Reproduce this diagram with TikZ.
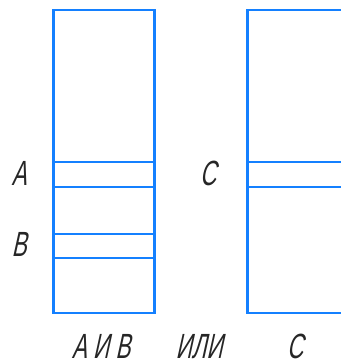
\documentclass[tikz,border=0pt]{standalone}
\usepackage{fontspec}
\setmainfont{Liberation Sans}[FakeStretch=0.64,FakeSlant=0.22]
\usetikzlibrary{positioning}

\tikzset{
  frame/.style={line width=2.2pt, color={rgb,255:red,20;green,128;blue,255}},
  lab/.style={inner sep=0pt, anchor=base, font=\fontsize{35}{35}\selectfont, text=black!85}
}

\begin{document}
\begin{tikzpicture}[x=1pt,y=-1pt]
  \useasboundingbox (0,0) rectangle (340,364);
  % left column
  \draw [frame] (53.5,10) rectangle (154.5,313);
  \draw [frame] (53.5,162) -- (154.5,162);
  \draw [frame] (53.5,187) -- (154.5,187);
  \draw [frame] (53.5,234) -- (154.5,234);
  \draw [frame] (53.5,258) -- (154.5,258);
  % right column, cut at the edge
  \draw [frame] (350,10) -- (247.5,10) -- (247.5,313) -- (350,313);
  \draw [frame] (247.5,162) -- (350,162);
  \draw [frame] (247.5,187) -- (350,187);
  % labels
  \node [lab] (la) at (19,185) {A};
  \node [lab] (lb) at (19,256) {B};
  \node [lab] (lc) at (208,185) {C};
  \node [lab] (aib) at (101,358) {A И B};
  \node [lab] (ili) at (199,358) {ИЛИ};
  \node [lab] (bc) at (295,358) {C};
\end{tikzpicture}
\end{document}
